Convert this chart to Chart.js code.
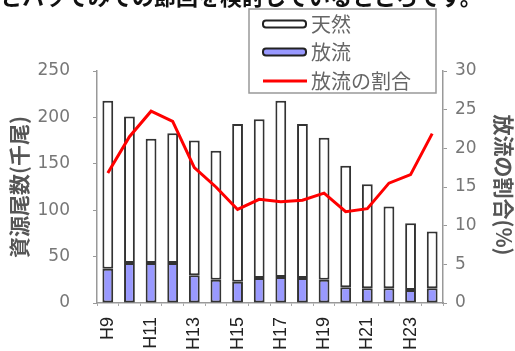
<!DOCTYPE html>
<html lang="ja">
<head>
<meta charset="utf-8">
<script src="https://cdn.jsdelivr.net/npm/chart.js@4"></script>
<style>
  html, body { margin: 0; padding: 0; background: #fff; }
  #wrap { width: 515px; height: 351px; position: relative; }
</style>
</head>
<body>
<div id="wrap"><canvas id="c"></canvas></div>
<script>
// 年度（平成）
const years = ['H9','H10','H11','H12','H13','H14','H15','H16','H17','H18','H19','H20','H21','H22','H23','H24'];
// 資源尾数（千尾）：天然魚と放流魚
const wild    = [181, 158, 134, 140, 145, 139, 170, 171, 190, 166, 153, 131, 112, 88, 72, 61];
const stocked = [37, 43, 43, 43, 30, 25, 23, 27, 28, 27, 25, 17, 16, 16, 14, 16];
// 資源に占める放流魚の割合（%）
const stockedShare = [16.8, 21.5, 24.8, 23.5, 17.5, 15.0, 12.1, 13.4, 13.1, 13.3, 14.2, 11.8, 12.2, 15.5, 16.6, 21.9];
// 目盛り
const leftTicks  = { min: 0, max: 250, step: 50 };
const rightTicks = { min: 0, max: 30, step: 5 };

const labels = { wild: '天然', stocked: '放流', share: '放流の割合' };
const leftTitle = '資源尾数(千尾)';
const rightTitle = '放流の割合(%)';
const headline = 'とハッてみての節回を検討しているところです。';

const BLUE = '#9999ff';
const RED = '#ff0000';
const EDGE = '#333333';

// 見出し・凡例・軸タイトル
const overlay = {
  id: 'overlay',
  afterDraw(chart) {
    const ctx = chart.ctx;
    ctx.save();

    ctx.font = 'bold 22px "Noto Sans CJK JP"';
    ctx.fillStyle = '#111';
    ctx.textAlign = 'left';
    ctx.textBaseline = 'alphabetic';
    ctx.fillText(headline, 0, 5);

    // 凡例
    const bx = 249, by = 9, bw = 187, bh = 84;
    ctx.fillStyle = '#fff';
    ctx.fillRect(bx, by, bw, bh);
    ctx.strokeStyle = '#999';
    ctx.lineWidth = 1.5;
    ctx.strokeRect(bx, by, bw, bh);

    const sx = 263, sw = 43, sh = 7;
    const rows = [24, 52, 81];
    const swatch = (y, fill) => {
      ctx.beginPath();
      ctx.roundRect(sx, y - sh / 2, sw, sh, 3);
      ctx.fillStyle = fill;
      ctx.fill();
      ctx.lineWidth = 2;
      ctx.strokeStyle = '#222';
      ctx.stroke();
    };
    swatch(rows[0], '#fff');
    swatch(rows[1], BLUE);
    ctx.beginPath();
    ctx.moveTo(sx, rows[2]);
    ctx.lineTo(sx + sw + 1, rows[2]);
    ctx.lineWidth = 3;
    ctx.strokeStyle = RED;
    ctx.stroke();

    ctx.font = '20px "Noto Sans CJK JP"';
    ctx.fillStyle = '#666';
    ctx.textBaseline = 'middle';
    ctx.fillText(labels.wild, 311, rows[0]);
    ctx.fillText(labels.stocked, 311, rows[1]);
    ctx.fillText(labels.share, 311, rows[2]);

    // 軸タイトル
    ctx.font = 'bold 21px "Noto Sans CJK JP"';
    ctx.fillStyle = '#555';
    ctx.textAlign = 'center';
    ctx.save();
    ctx.translate(19, 187);
    ctx.rotate(-Math.PI / 2);
    ctx.fillText(leftTitle, 0, 0);
    ctx.restore();
    ctx.save();
    ctx.translate(504, 185);
    ctx.rotate(Math.PI / 2);
    ctx.fillText(rightTitle, 0, 0);
    ctx.restore();

    ctx.restore();
  }
};

const tickFont = { family: 'DejaVu Sans', size: 17 };

new Chart(document.getElementById('c'), {
  type: 'bar',
  data: {
    labels: years,
    datasets: [
      {
        type: 'line',
        label: labels.share,
        data: stockedShare,
        yAxisID: 'y2',
        borderColor: RED,
        borderWidth: 3,
        pointRadius: 0,
        tension: 0,
        fill: false,
        order: 0
      },
      {
        label: labels.stocked,
        data: stocked,
        yAxisID: 'y',
        backgroundColor: BLUE,
        borderColor: EDGE,
        borderWidth: 2,
        borderSkipped: false,
        stack: 's',
        order: 1
      },
      {
        label: labels.wild,
        data: wild,
        yAxisID: 'y',
        backgroundColor: '#ffffff',
        borderColor: EDGE,
        borderWidth: 2,
        borderSkipped: false,
        stack: 's',
        order: 1
      }
    ]
  },
  options: {
    responsive: true,
    maintainAspectRatio: false,
    animation: false,
    layout: { padding: { top: 71, left: 0, right: 0, bottom: 0 } },
    datasets: { bar: { categoryPercentage: 1, barPercentage: 0.5 } },
    plugins: { legend: { display: false }, tooltip: { enabled: false } },
    scales: {
      x: {
        stacked: true,
        afterFit(s) { s.height = 48; },
        grid: { offset: true, drawOnChartArea: false, drawTicks: true, tickLength: 3, color: '#aaa' },
        border: { color: '#999', width: 1.5 },
        ticks: {
          autoSkip: false,
          maxRotation: 90,
          minRotation: 90,
          padding: 11,
          color: '#222',
          font: { family: 'Liberation Sans', size: 18 },
          callback: (v, i) => (i % 2 === 0 ? years[i] : '')
        }
      },
      y: {
        position: 'left',
        stacked: true,
        min: leftTicks.min,
        max: leftTicks.max,
        afterFit(s) { s.width = 97; },
        grid: { drawOnChartArea: false, drawTicks: true, tickLength: 4, color: '#999' },
        border: { color: '#999', width: 1.5 },
        ticks: { stepSize: leftTicks.step, padding: 23, color: '#777', font: tickFont }
      },
      y2: {
        position: 'right',
        min: rightTicks.min,
        max: rightTicks.max,
        afterFit(s) { s.width = 72; },
        grid: { drawOnChartArea: false, drawTicks: true, tickLength: 4, color: '#999' },
        border: { color: '#999', width: 1.5 },
        ticks: { stepSize: rightTicks.step, padding: 8, color: '#777', font: tickFont }
      }
    }
  },
  plugins: [overlay]
});
</script>
</body>
</html>
